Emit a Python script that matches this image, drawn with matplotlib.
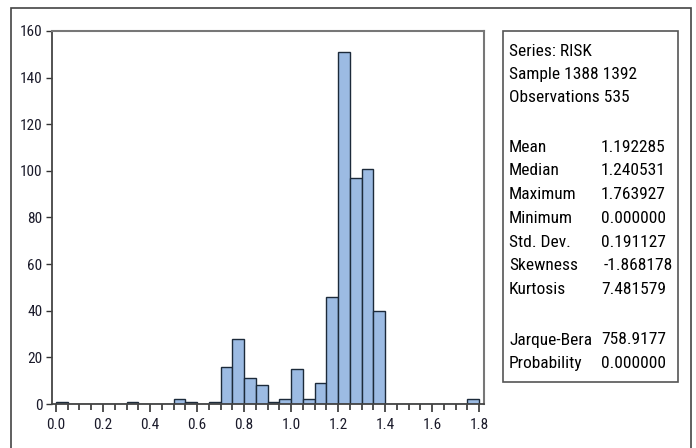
import matplotlib
matplotlib.use("Agg")
import matplotlib.pyplot as plt
from matplotlib.patches import Rectangle
from matplotlib.ticker import MultipleLocator, FormatStrFormatter

plt.rcParams['font.family'] = ['Roboto Condensed', 'DejaVu Sans']

# histogram bins (width 0.05 from 0.0 to 1.8) and counts
bin_edges = [round(i * 0.05, 2) for i in range(37)]
counts = [1, 0, 0, 0, 0, 0, 1, 0, 0, 0,
          2, 1, 0, 1, 16, 28, 11, 8, 1, 2,
          15, 2, 9, 46, 151, 97, 101, 40, 0, 0,
          0, 0, 0, 0, 0, 2]

stat_names = ["Mean", "Median", "Maximum", "Minimum", "Std. Dev.", "Skewness", "Kurtosis"]
stat_values = ["1.192285", "1.240531", "1.763927", "0.000000", "0.191127", "-1.868178", "7.481579"]
test_names = ["Jarque-Bera", "Probability"]
test_values = ["758.9177", "0.000000"]
header = ["Series: RISK", "Sample 1388 1392", "Observations 535"]

W, H = 696, 448
fig = plt.figure(figsize=(6.96, 4.48), dpi=100)

def fx(px):
    return px / W

def fy(py):
    return 1 - py / H

# outer frame
fig.add_artist(Rectangle((fx(11), fy(470)), fx(691) - fx(11), fy(8) - fy(470),
                         transform=fig.transFigure, fill=False,
                         edgecolor='#444444', linewidth=1.2))

ax = fig.add_axes([fx(52), fy(404), fx(484) - fx(52), fy(31) - fy(404)])
lefts = bin_edges[:-1]
widths = [bin_edges[i + 1] - bin_edges[i] for i in range(len(lefts))]
ax.bar(lefts, counts, width=widths, align='edge', color='#9cbbe3',
       edgecolor='#1c2a3a', linewidth=1.0)

ax.set_xlim(-0.017, 1.821)
ax.set_ylim(0, 160)
ax.xaxis.set_major_locator(MultipleLocator(0.2))
ax.xaxis.set_minor_locator(MultipleLocator(0.05))
ax.yaxis.set_major_locator(MultipleLocator(20))
ax.xaxis.set_major_formatter(FormatStrFormatter('%.1f'))
ax.tick_params(axis='x', which='major', length=6, width=1.2, color='#333333',
               labelsize=11, labelcolor='#1a1a2a', pad=4)
ax.tick_params(axis='x', which='minor', length=4, width=1.2, color='#333333')
ax.tick_params(axis='y', which='major', length=4, width=1.0, color='#333333',
               labelsize=11, labelcolor='#1a1a2a', pad=3)
for side in ['top', 'right']:
    ax.spines[side].set_color('#777777')
    ax.spines[side].set_linewidth(1.5)
for side in ['left', 'bottom']:
    ax.spines[side].set_color('#444444')
    ax.spines[side].set_linewidth(1.3)

# statistics box
fig.add_artist(Rectangle((fx(503), fy(382)), fx(678) - fx(503), fy(31) - fy(382),
                         transform=fig.transFigure, fill=False,
                         edgecolor='#555555', linewidth=1.2))

fs = 12.5
for i, t in enumerate(header):
    fig.text(fx(509), fy(51 + i * 23.5), t, fontsize=fs, va='center', ha='left')
for i, (n, v) in enumerate(zip(stat_names, stat_values)):
    y = fy(147 + i * 23.8)
    fig.text(fx(509), y, n, fontsize=fs, va='center', ha='left')
    fig.text(fx(604 if v.startswith('-') else 601), y, v, fontsize=fs, va='center', ha='left')
for i, (n, v) in enumerate(zip(test_names, test_values)):
    y = fy(340 + i * 23.5)
    fig.text(fx(509), y, n, fontsize=fs, va='center', ha='left')
    fig.text(fx(601), y, v, fontsize=fs, va='center', ha='left')

fig.savefig("out.png", dpi=100)
